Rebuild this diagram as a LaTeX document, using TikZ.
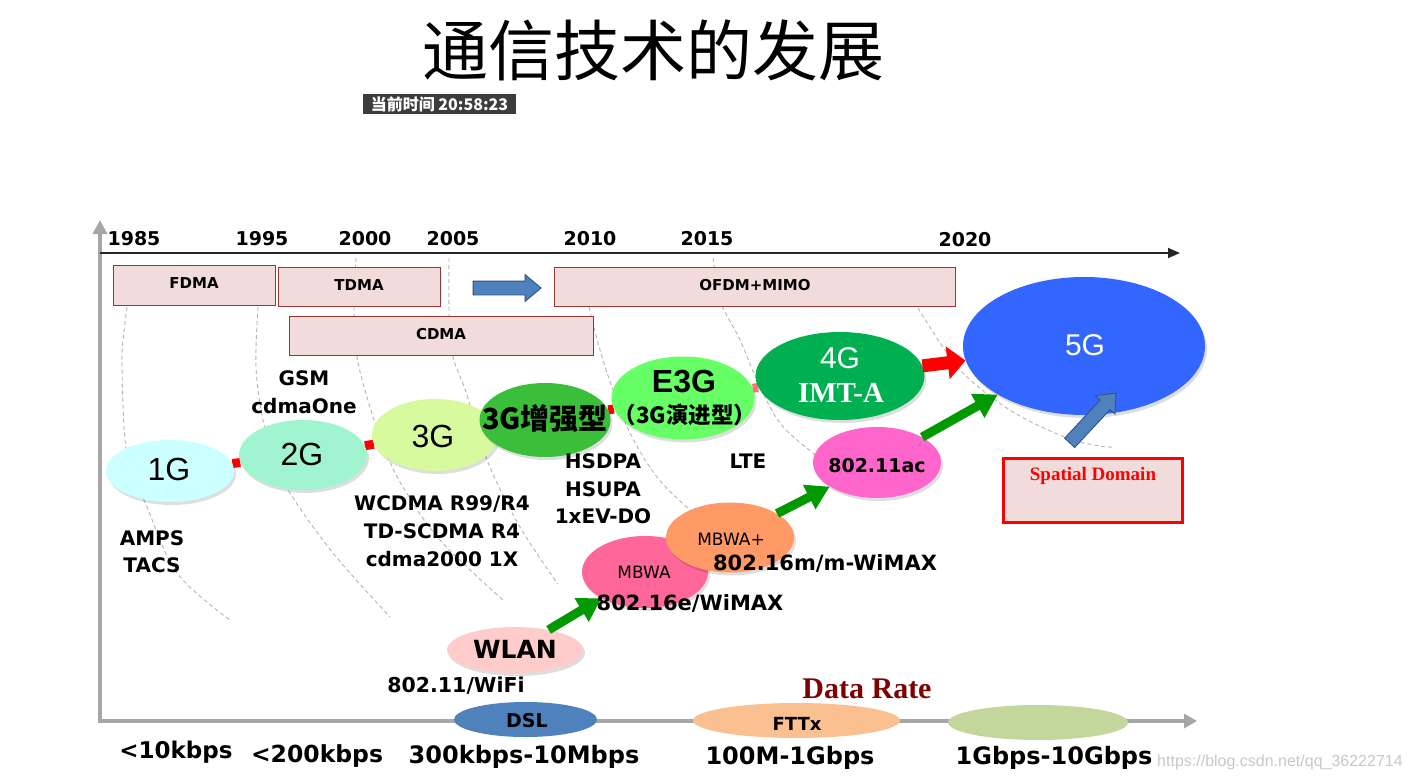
\documentclass[tikz,border=0pt]{standalone}
\usepackage{fontspec}
\setmainfont{DejaVu Sans}
\newfontfamily\cjk{Noto Sans CJK SC}
\newfontfamily\arialf{Liberation Sans}
\newfontfamily\timesf{Liberation Serif}
\newfontfamily\dejavu{DejaVu Sans}
\usetikzlibrary{arrows.meta,shapes.geometric,shapes.arrows,backgrounds,shadows}
\newcommand{\fsz}[1]{\fontsize{#1}{#1}\selectfont}
\definecolor{boxfill}{HTML}{F2DCDB}
\definecolor{boxline}{HTML}{953735}
\definecolor{axisgray}{HTML}{A6A6A6}
\definecolor{arcgray}{HTML}{B4B4B4}
\definecolor{tsgray}{HTML}{3C3C3C}
\definecolor{blueA}{HTML}{4F81BD}
\definecolor{blueD}{HTML}{2F4F7F}
\definecolor{cOne}{HTML}{CCFFFF}
\definecolor{cTwo}{HTML}{A0F5D0}
\definecolor{cThree}{HTML}{D7FA9F}
\definecolor{cThreeE}{HTML}{3BBF3B}
\definecolor{cEThree}{HTML}{66FF66}
\definecolor{cFour}{HTML}{00B050}
\definecolor{cFive}{HTML}{3366FF}
\definecolor{cAC}{HTML}{FF66CC}
\definecolor{cMBp}{HTML}{FF9966}
\definecolor{cMB}{HTML}{FF6699}
\definecolor{cWLAN}{HTML}{FFCCCC}
\definecolor{cFTTx}{HTML}{FAC090}
\definecolor{cGig}{HTML}{C3D69B}
\definecolor{arrowgreen}{HTML}{009900}
\definecolor{darate}{HTML}{7F0000}
\definecolor{wmgray}{HTML}{C8C8C8}
\begin{document}
\begin{tikzpicture}[x=1pt,y=-1pt,
  techbox/.style={draw=boxline, fill=boxfill, line width=0.8pt, inner sep=0pt},
  boxtext/.style={anchor=base, font=\dejavu\bfseries\fsz{15}},
  yeartext/.style={anchor=base, font=\dejavu\bfseries\fsz{19}},
  lbl/.style={anchor=base, font=\dejavu\bfseries\fsz{20}},
  ratetext/.style={anchor=base, font=\dejavu\bfseries\fsz{24}},
  gell/.style={ellipse, inner sep=0pt, drop shadow={shadow xshift=2pt, shadow yshift=-3pt, opacity=0.13, fill=black}},
  flatell/.style={ellipse, inner sep=0pt},
  arcline/.style={draw=arcgray, line width=0.9pt, dash pattern=on 4pt off 3pt},
  garrow/.style={draw=arrowgreen, line width=9pt, -{Triangle[length=23pt,width=26pt]}},
  bluearrow/.style={single arrow, fill=blueA, draw=blueD, line width=0.8pt, inner sep=0pt, inner ysep=6.5pt, single arrow head extend=6.5pt, single arrow tip angle=80},
  gtext/.style={anchor=base, font=\arialf\fsz{32}}
]
\useasboundingbox (0,0) rectangle (1412,779);
\begin{pgfonlayer}{background}
\fill[white] (0,0) rectangle (1412,779);
\end{pgfonlayer}

% title and time stamp
\node[anchor=base, font=\cjk\fsz{66}] (title) at (653,75) {通信技术的发展};
\node[fill=tsgray, text=white, minimum width=153pt, minimum height=20pt, inner sep=0pt, font=\cjk\bfseries\fsz{16}] (time) at (439.5,104) {当前时间 20:58:23};

% dashed arcs
\draw[arcline] plot[smooth, tension=0.6] coordinates {(127,307) (123,340) (122,367) (125,440) (133,475) (147,507) (177,573) (230,620)};
\draw[arcline] plot[smooth, tension=0.6] coordinates {(258,307) (256,367) (263,420) (275,460) (290,493) (333,553) (390,617)};
\draw[arcline] plot[smooth, tension=0.6] coordinates {(356,258) (354,308) (357,357) (370,407) (385,450) (403,487) (440,540) (503,600)};
\draw[arcline] plot[smooth, tension=0.6] coordinates {(449,258) (449,310) (452,353) (467,395) (487,460) (520,527) (558,584)};
\draw[arcline] plot[smooth, tension=0.6] coordinates {(589,307) (600,350) (613,390) (630,433) (657,477) (690,510) (712,527)};
\draw[arcline] plot[smooth, tension=0.6] coordinates {(713,258) (718,290) (723,308) (740,340) (757,380) (780,423) (813,453) (830,465)};
\draw[arcline] plot[smooth, tension=0.6] coordinates {(918,308) (943,347) (967,377) (1013,412) (1067,438) (1100,446) (1112,447)};

% axes
\coordinate (origin) at (100,721);
\coordinate (ytip) at (100,220);
\coordinate (xstart) at (98,721);
\coordinate (xtip) at (1197,721);
\coordinate (tstart) at (100,253);
\coordinate (ttip) at (1180,253);
\draw[axisgray, line width=4pt, -{Triangle[length=14pt,width=14pt]}] (origin) -- (ytip);
\draw[axisgray, line width=4pt, -{Triangle[length=13pt,width=14pt]}] (xstart) -- (xtip);
\draw[black!85, line width=1.8pt, -{Triangle[length=12pt,width=10pt]}] (tstart) -- (ttip);

% years
\node[yeartext] (y1985) at (134,245) {1985};
\node[yeartext] (y1995) at (262,245) {1995};
\node[yeartext] (y2000) at (365,245) {2000};
\node[yeartext] (y2005) at (453,245) {2005};
\node[yeartext] (y2010) at (590,245) {2010};
\node[yeartext] (y2015) at (707,245) {2015};
\node[yeartext] (y2020) at (965,246) {2020};

% technique boxes
\node[techbox, minimum width=162pt, minimum height=40pt] (fdma) at (194,285) {};
\node[boxtext] (fdmat) at (194,288) {FDMA};
\node[techbox, minimum width=162pt, minimum height=39pt] (tdma) at (359,286.5) {};
\node[boxtext] (tdmat) at (359,290) {TDMA};
\node[techbox, minimum width=304pt, minimum height=39pt] (cdma) at (441,335.5) {};
\node[boxtext] (cdmat) at (441,339) {CDMA};
\node[techbox, minimum width=401pt, minimum height=39pt] (ofdm) at (754.5,286.5) {};
\node[boxtext] (ofdmt) at (755,290) {OFDM+MIMO};
\node[bluearrow, minimum height=68pt] (barrow) at (503,288) {};

% generation ellipses
\node[gell, fill=cOne, minimum width=128pt, minimum height=62pt] (g1) at (170,471) {};
\node[gell, fill=cTwo, minimum width=128pt, minimum height=70pt] (g2) at (303,455) {};
\node[gell, fill=cThree, minimum width=126pt, minimum height=72pt] (g3) at (435,435) {};
\node[gell, fill=cThreeE, minimum width=131pt, minimum height=74pt] (g3e) at (545,420) {};
\node[gell, fill=cEThree, minimum width=143pt, minimum height=83pt] (ge3) at (683,398) {};
\node[gell, fill=cFour, minimum width=169pt, minimum height=88pt] (g4) at (840,376) {};
\node[gell, fill=cFive, minimum width=242pt, minimum height=138pt] (g5) at (1084,346) {};

\begin{pgfonlayer}{background}
\draw[red, line width=9pt] (g1) -- (g2);
\draw[red, line width=9pt] (g2) -- (g3);
\draw[red, line width=9pt] (g3) -- (g3e);
\draw[red, line width=9pt] (g3e) -- (ge3);
\draw[red!55, line width=9pt] (ge3) -- (g4);
\end{pgfonlayer}

\node[gtext] (t1) at (169,480) {1G};
\node[gtext] (t2) at (302,465) {2G};
\node[gtext] (t3) at (433,447) {3G};
\node[anchor=base, font=\cjk\bfseries\fsz{29}] (t3e) at (545,429) {3G增强型};
\node[anchor=base, font=\arialf\bfseries\fsz{32}] (te3) at (684,392) {E3G};
\node[anchor=base, font=\cjk\bfseries\fsz{22.5}] (te3b) at (685,423) {（3G演进型）};
\node[gtext, text=white, font=\arialf\fsz{30}] (t4) at (840,368) {4G};
\node[anchor=base, text=white, font=\timesf\bfseries\fsz{29}] (t4b) at (841,402) {IMT-A};
\node[gtext, text=white, font=\arialf\fsz{30}] (t5) at (1085,355) {5G};

% spatial domain
\node[draw=red, line width=3.5pt, fill=boxfill, minimum width=179pt, minimum height=64pt, inner sep=0pt] (spatial) at (1093,490.5) {};
\node[anchor=base, font=\timesf\bfseries\fsz{19}, text=red] (spatialt) at (1093,480) {Spatial Domain};
\node[bluearrow, minimum height=68pt, rotate=47] (sarrow) at (1090,421) {};

% wireless ellipses
\node[gell, fill=cAC, minimum width=128pt, minimum height=71pt] (gac) at (877,462.5) {};
\node[gell, fill=cMB, minimum width=126pt, minimum height=72pt] (gm) at (645,572) {};
\node[gell, fill=cMBp, minimum width=128pt, minimum height=70pt] (gmp) at (730,537.5) {};
\node[gell, fill=cWLAN, minimum width=136pt, minimum height=46pt] (gw) at (515,650) {};
\node[anchor=base, font=\dejavu\bfseries\fsz{19}] (tac) at (877,472) {802.11ac};
\node[anchor=base, font=\dejavu\fsz{17}] (tmp) at (731,545) {MBWA+};
\node[anchor=base, font=\dejavu\fsz{17}] (tm) at (644,578) {MBWA};
\node[anchor=base, font=\dejavu\bfseries\fsz{25}] (tw) at (515,658) {WLAN};

% arrows
\draw[red, line width=13pt, -{Triangle[length=18pt,width=32pt]}] (g4) -- (g5);
\draw[garrow] (gw) -- (gm);
\draw[garrow] (gmp) -- (gac);
\draw[garrow] (gac) -- (g5);

% bottom ellipses on the rate axis
\node[flatell, fill=blueA, minimum width=143pt, minimum height=35pt] (gd) at (525.5,719.5) {};
\node[flatell, fill=cFTTx, minimum width=207pt, minimum height=35pt] (gf) at (796.5,720.5) {};
\node[flatell, fill=cGig, minimum width=180pt, minimum height=35pt] (gg) at (1038,722.5) {};
\node[anchor=base, font=\dejavu\bfseries\fsz{19}] (td) at (527,727) {DSL};
\node[anchor=base, font=\dejavu\bfseries\fsz{18}] (tf) at (797,730) {FTTx};

% standards labels
\node[lbl] (amps) at (152,545) {AMPS};
\node[lbl] (tacs) at (152,572) {TACS};
\node[lbl] (gsm) at (304,385) {GSM};
\node[lbl] (cdmaone) at (304,413) {cdmaOne};
\node[lbl] (wcdma) at (442,510) {WCDMA R99/R4};
\node[lbl] (tdscdma) at (442,538) {TD-SCDMA R4};
\node[lbl] (cdma2k) at (442,566) {cdma2000 1X};
\node[lbl] (hsdpa) at (603,468) {HSDPA};
\node[lbl] (hsupa) at (603,496) {HSUPA};
\node[lbl] (evdo) at (603,523) {1xEV-DO};
\node[lbl] (lte) at (748,468) {LTE};
\node[lbl, font=\dejavu\bfseries\fsz{21}] (w16m) at (825,570) {802.16m/m-WiMAX};
\node[lbl, font=\dejavu\bfseries\fsz{21}] (w16e) at (690,610) {802.16e/WiMAX};
\node[lbl, font=\dejavu\bfseries\fsz{20.5}] (wifi) at (456,692) {802.11/WiFi};
\node[anchor=base, font=\timesf\bfseries\fsz{30}, text=darate] (drate) at (867,698) {Data Rate};

% rates
\node[ratetext, font=\dejavu\bfseries\fsz{23}] (r1) at (176,758) {<10kbps};
\node[ratetext, font=\dejavu\bfseries\fsz{23.5}] (r2) at (317,762) {<200kbps};
\node[ratetext] (r3) at (524,763) {300kbps-10Mbps};
\node[ratetext] (r4) at (790,764) {100M-1Gbps};
\node[ratetext] (r5) at (1054,764) {1Gbps-10Gbps};

% watermark
\node[anchor=base west, font=\arialf\fsz{16}, text=wmgray, inner sep=0pt] (wm) at (1157,766) {https://blog.csdn.net/qq\_36222714};
\end{tikzpicture}
\end{document}
